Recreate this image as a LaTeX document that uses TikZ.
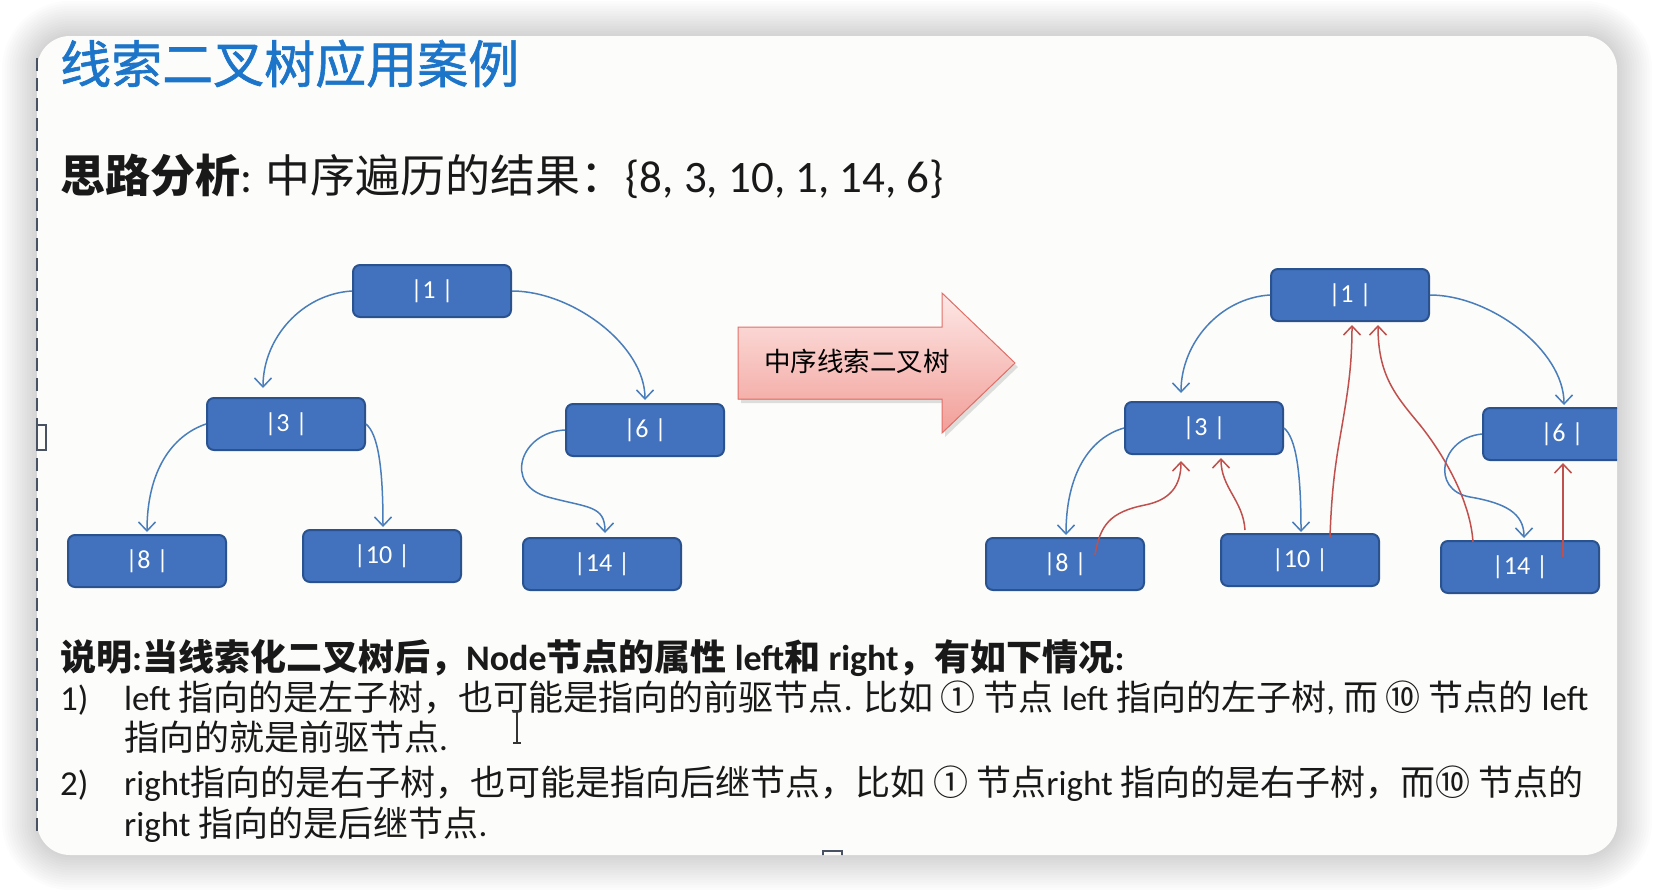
\documentclass[tikz,border=0pt]{standalone}
\usepackage{fontspec}
\setmainfont{Noto Sans CJK SC}
\newfontfamily\lat{Carlito}
\newfontfamily\heavy{Noto Sans CJK SC}[FakeBold=1.2]
\usetikzlibrary{arrows.meta,calc}
\definecolor{nodefill}{RGB}{66,114,189}
\definecolor{nodeedge}{RGB}{41,82,143}
\definecolor{linkblue}{RGB}{74,126,187}
\definecolor{threadred}{RGB}{192,80,77}
\definecolor{titleblue}{RGB}{28,117,200}
\definecolor{cardfill}{RGB}{252,252,250}
\definecolor{pinktop}{RGB}{253,232,230}
\definecolor{pinkbot}{RGB}{242,158,152}
\definecolor{pinkedge}{RGB}{226,112,106}
\definecolor{handle}{RGB}{72,82,98}
\newcommand{\fsz}[1]{\fontsize{#1}{#1}\selectfont}

\begin{document}
\begin{tikzpicture}[x=1pt,y=-1pt,
  treenode/.style={draw=nodeedge,line width=2pt,fill=nodefill,rounded corners=7pt,
    minimum width=158pt,minimum height=52pt,inner sep=0pt,text=white,font=\lat\fsz{26}},
  link/.style={draw=linkblue,line width=1.5pt,-{Straight Barb[length=9pt,width=17pt,line width=1.5pt]}},
  thread/.style={link,draw=threadred},
  textline/.style={anchor=base west,inner sep=0pt,text=black!90,font=\fsz{35}}]
  \useasboundingbox (0,0) rectangle (1654,892);
  \fill[white] (0,0) rectangle (1654,892);
  \foreach \s [evaluate=\s as \r using 33+2.5*\s, evaluate=\s as \d using 2.5*\s] in {1,...,14}
    \fill[black,opacity=0.01,rounded corners=\r pt] ({37-\d},{36-\d}) rectangle ({1617+\d},{855+\d});
  \fill[cardfill,rounded corners=33pt] (37,36) rectangle (1617,855);
  \begin{scope}
  \clip[rounded corners=33pt] (37,36) rectangle (1617,855);
  \node[anchor=base west,inner sep=0pt,text=titleblue,font=\heavy\fsz{51}] (title) at (60,83) {线索二叉树应用案例};
  \node[anchor=base west,inner sep=0pt,text=black!90,font=\fsz{45}] (idea) at (60,192)
    {\textbf{思路分析}{\lat: }中序遍历的结果：{\lat\{8, 3, 10, 1, 14, 6\}}};

  \node[treenode] (plain1) at (432,291) {|1 |};
  \node[treenode] (plain3) at (286,424) {|3 |};
  \node[treenode] (plain6) at (645,430) {|6 |};
  \node[treenode] (plain8) at (147,561) {|8 |};
  \node[treenode] (plain10) at (382,556) {|10 |};
  \node[treenode] (plain14) at (602,564) {|14 |};
  \draw[link] (plain1.west) .. controls +(-50,3) and +(0,-50) .. ([shift={(-23,-9)}]plain3.north);
  \draw[link] (plain1.east) .. controls +(60,0) and +(0,-55) .. ([shift={(0,-3)}]plain6.north);
  \draw[link] (plain3.west) .. controls +(-35,12) and +(0,-60) .. ([shift={(0,-2)}]plain8.north);
  \draw[link] (plain3.east) .. controls +(12,10) and +(0,-60) .. ([shift={(1,-2)}]plain10.north);
  \draw[link] (plain6.west) .. controls +(-45,2) and +(-45,-12) .. (548,497)
    .. controls +(40,11) and +(0,-28) .. ([shift={(3,-4)}]plain14.north);

  \fill[black,opacity=0.12] (741,331) -- (945,331) -- (945,297) -- (1018,367) -- (945,437) -- (945,403) -- (741,403) -- cycle;
  \filldraw[draw=pinkedge,line width=1pt,top color=pinktop,bottom color=pinkbot]
    (738,327) -- (942,327) -- (942,293) -- (1015,363) -- (942,433) -- (942,399) -- (738,399) -- cycle;
  \node[font=\fsz{26.5},text=black] (inorder) at (857,361) {中序线索二叉树};

  \node[treenode] (thr1) at (1350,295) {|1 |};
  \node[treenode] (thr3) at (1204,428) {|3 |};
  \node[treenode] (thr6) at (1562,434) {|6 |};
  \node[treenode] (thr8) at (1065,564) {|8 |};
  \node[treenode] (thr10) at (1300,560) {|10 |};
  \node[treenode] (thr14) at (1520,567) {|14 |};
  \draw[link] (thr1.west) .. controls +(-50,3) and +(0,-50) .. ([shift={(-23,-8)}]thr3.north);
  \draw[link] (thr1.east) .. controls +(60,0) and +(0,-55) .. ([shift={(2,-2)}]thr6.north);
  \draw[link] (thr3.west) .. controls +(-35,10) and +(0,-60) .. ([shift={(1,-2)}]thr8.north);
  \draw[link] (thr3.east) .. controls +(12,10) and +(0,-60) .. ([shift={(1,-1)}]thr10.north);
  \draw[link] (thr6.west) .. controls +(-42,4) and +(-40,-7) .. (1470,497)
    .. controls +(35,6) and +(0,-25) .. ([shift={(4,-2)}]thr14.north);
  \draw[thread] ([shift={(30,-9)}]thr8.center) .. controls +(5,-30) and (1110,512) .. (1145,505)
    .. controls +(25,-5) and +(0,25) .. ([shift={(-23,6)}]thr3.south);
  \draw[thread] ([shift={(-55,-3)}]thr10.north) .. controls +(-2,-30) and +(0,30) .. ([shift={(17,3)}]thr3.south);
  \draw[thread] ([shift={(30,4)}]thr10.north) .. controls +(2,-60) and +(-5,30) .. (1343,420)
    .. controls +(5,-30) and +(0,40) .. ([shift={(2,3)}]thr1.south);
  \draw[thread] ([shift={(-47,2)}]thr14.north) .. controls +(-3,-45) and +(20,25) .. (1420,425)
    .. controls +(-25,-30) and +(0,50) .. ([shift={(28,3)}]thr1.south);
  \draw[thread] ([shift={(43,-10)}]thr14.center) -- ([shift={(1,2)}]thr6.south);

  \node[textline,font=\bfseries\fsz{36}] (note) at (60,670)
    {说明{\lat:}当线索化二叉树后，{\lat Node}节点的属性{\lat\ left}和{\lat\ right}，有如下情况{\lat:}};
  \node[textline] (num1) at (60,710) {\lat 1)};
  \node[textline] (item1) at (124,710)
    {{\lat left }指向的是左子树，也可能是指向的前驱节点{\lat. }比如 ① 节点{\lat\ left }指向的左子树{\lat, }而 ⑩ 节点的{\lat\ left}};
  \node[textline] (item1b) at (124,750) {指向的就是前驱节点{\lat.}};
  \node[textline] (num2) at (60,795) {\lat 2)};
  \node[textline] (item2) at (124,795)
    {{\lat right}指向的是右子树，也可能是指向后继节点，比如 ① 节点{\lat right }指向的是右子树，而⑩ 节点的};
  \node[textline] (item2b) at (124,836) {{\lat right }指向的是后继节点{\lat.}};
  \draw[black!80,line width=1.2pt] (517,711) -- (517,743) (513,711) -- (521,711) (513,743) -- (521,743);
  \draw[handle,fill=cardfill,line width=1.5pt] (823,851) rectangle (842,862);
  \end{scope}
  \draw[handle,line width=1.8pt,dash pattern=on 13pt off 7pt] (37,58) -- (37,833);
  \draw[handle,fill=cardfill,line width=1.5pt] (37,425) rectangle (46,450);
\end{tikzpicture}
\end{document}
